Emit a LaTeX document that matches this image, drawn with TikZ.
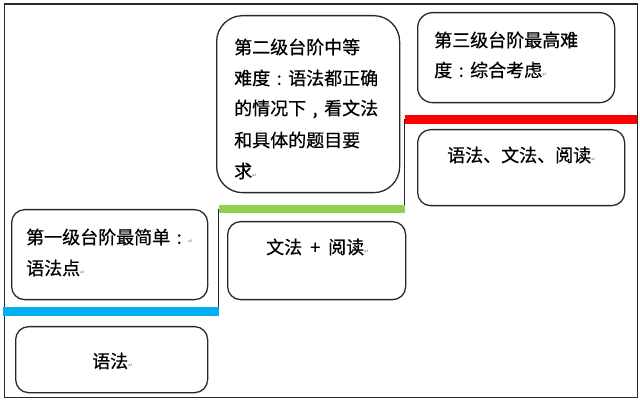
\documentclass[tikz,border=0pt]{standalone}
\usepackage{fontspec}
\setmainfont[FakeBold=0.6]{Noto Sans CJK SC}
\newfontfamily\symf{DejaVu Sans}
\newcommand\pmk{{\symf\fontsize{6}{6}\selectfont\textcolor{gray}{↵}}}
\newcommand\fwc{\hbox to 1em{\hfil:\hfil}}
\newcommand\fwm{\hbox to 1em{\hfil,\hfil}}
\definecolor{stepblue}{RGB}{0,176,240}
\definecolor{stepgreen}{RGB}{146,208,80}
\definecolor{stepred}{RGB}{255,0,0}
\definecolor{edge}{RGB}{40,40,40}
\begin{document}
\begin{tikzpicture}[x=1pt,y=-1pt,
  box/.style={draw=edge,line width=1.3pt,anchor=north west,inner sep=0pt},
  txt/.style={anchor=west,inner sep=0pt,font=\fontsize{18}{18}\selectfont,text=black},
  frame/.style={draw=edge,line width=1.3pt},
  riser/.style={draw=edge,line width=1.3pt},
  tread/.style={line width=8.5pt,line cap=butt}]
\useasboundingbox (0,0) rectangle (640,403);
\node[frame,anchor=north west,inner sep=0pt,minimum width=633.5pt,minimum height=393.5pt] (fr) at (3.5,3.5) {};
% step lines
\coordinate (b0) at (3,311.5);
\coordinate (b1) at (218.5,311.5);
\coordinate (g0) at (218.5,209);
\coordinate (g1) at (404.5,209);
\coordinate (r0) at (404.5,119.5);
\coordinate (r1) at (637,119.5);
\draw[riser] (b1) -- (g0);
\draw[riser] (g1) -- (r0);
\draw[tread,stepblue] (b0) -- (b1);
\draw[tread,stepgreen] (g0) -- (g1);
\draw[tread,stepred] (r0) -- (r1);
% boxes
\node[box,rounded corners=13pt,minimum width=196pt,minimum height=90pt] (s1) at (11,209) {};
\node[box,rounded corners=13pt,minimum width=192pt,minimum height=66pt] (a1) at (15,326) {};
\node[box,rounded corners=26pt,minimum width=183pt,minimum height=177pt] (s2) at (216,15) {};
\node[box,rounded corners=13pt,minimum width=178pt,minimum height=78pt] (a2) at (227,221) {};
\node[box,rounded corners=15pt,minimum width=197pt,minimum height=90pt] (s3) at (417,12) {};
\node[box,rounded corners=13pt,minimum width=207pt,minimum height=76pt] (a3) at (417,129) {};
% texts
\node[txt] (s1a) at (26,237) {第一级台阶最简单\fwc\pmk};
\node[txt] (s1b) at (26,268) {语法点\pmk};
\node[txt] (a1t) at (92,361) {语法\pmk};
\node[txt] (s2a) at (234,47) {第二级台阶中等};
\node[txt] (s2b) at (234,78) {难度\fwc 语法都正确};
\node[txt] (s2c) at (234,109) {的情况下\fwm 看文法};
\node[txt] (s2d) at (234,140) {和具体的题目要};
\node[txt] (s2e) at (234,171) {求\pmk};
\node[txt] (a2t) at (266,247) {文法\hspace{8pt}+\hspace{8pt}阅读\pmk};
\node[txt] (s3a) at (434,40) {第三级台阶最高难};
\node[txt] (s3b) at (434,70) {度\fwc 综合考虑\pmk};
\node[txt] (a3t) at (447,155) {语法、文法、阅读\pmk};
\end{tikzpicture}
\end{document}
